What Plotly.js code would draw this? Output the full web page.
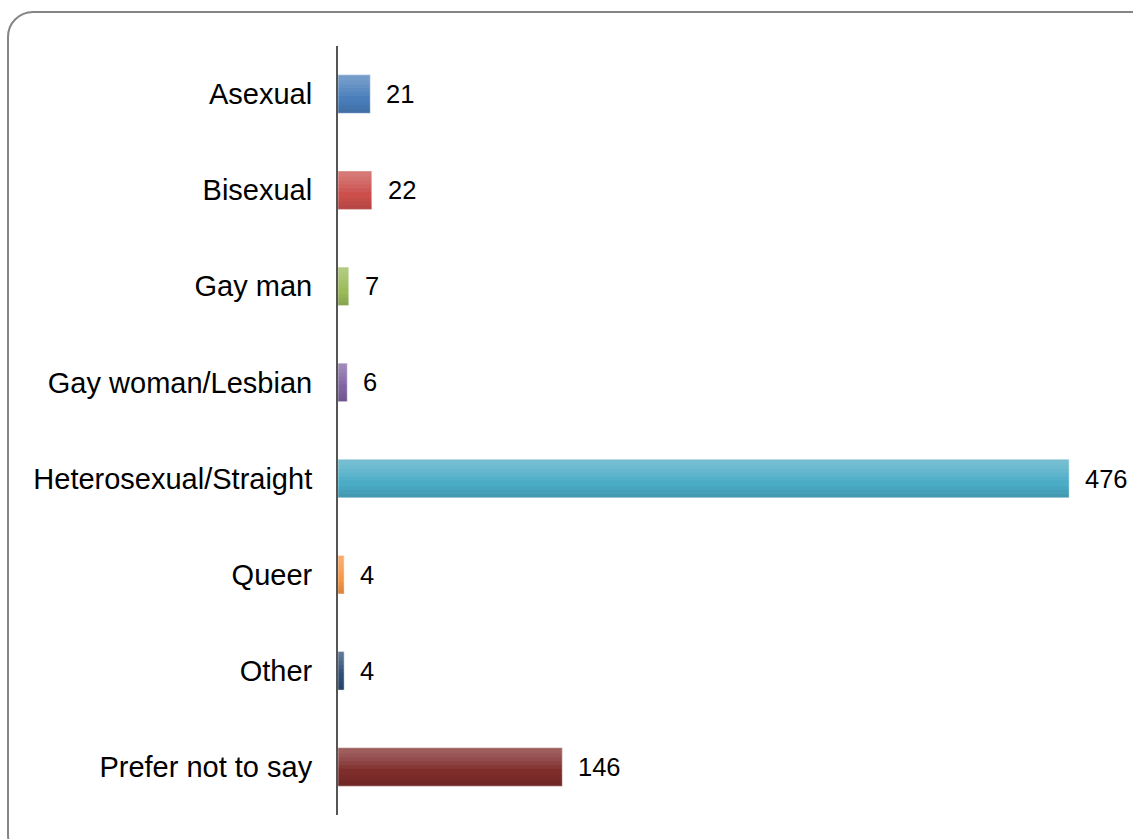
<!DOCTYPE html>
<html>
<head>
<meta charset="utf-8">
<script src="https://cdn.plot.ly/plotly-3.0.1.min.js"></script>
<style>
  html, body { margin: 0; padding: 0; background: #ffffff; }
  #wrap { position: relative; width: 1133px; height: 839px; overflow: hidden; }
  #frame { position: absolute; left: 7px; top: 11px; width: 1150px; height: 850px;
           border: 2px solid #858585; border-radius: 26px; box-sizing: border-box; }
  #chart { position: absolute; left: 0; top: 0; width: 1133px; height: 839px; }
</style>
</head>
<body>
<div id="wrap">
  <div id="frame"></div>
  <div id="chart"></div>
</div>
<script>
const categories = ["Asexual", "Bisexual", "Gay man", "Gay woman/Lesbian",
  "Heterosexual/Straight", "Queer", "Other", "Prefer not to say"];
const counts = [21, 22, 7, 6, 476, 4, 4, 146];
const barColors = ["#4a7ebb", "#cc4f4c", "#9bbb59", "#8064a2",
  "#4bacc6", "#f79646", "#2c4d75", "#7f2d2b"];

const FONT = "Liberation Sans, Arial, sans-serif";

// base bars
const base = {
  type: "bar", orientation: "h",
  x: counts, y: categories,
  width: 0.4, offset: -0.2,
  marker: { color: barColors, line: { color: "rgba(255,255,255,0.45)", width: 1 } },
  hoverinfo: "x+y"
};

// soft stacked shading layers to mimic the vertical gradient of the original bars
function layer(off, w, col) {
  return {
    type: "bar", orientation: "h",
    x: counts, y: categories,
    width: w, offset: off,
    marker: { color: col, line: { width: 0 } },
    hoverinfo: "skip"
  };
}
const traces = [base];
[0.22, 0.18, 0.14, 0.10, 0.06].forEach(w => traces.push(layer(-0.2, w, "rgba(255,255,255,0.055)")));
[0.12, 0.08, 0.04].forEach(w => traces.push(layer(0.2 - w, w, "rgba(0,0,0,0.035)")));

const annotations = categories.map((c, i) => ({
  x: counts[i], y: c, xref: "x", yref: "y",
  text: String(counts[i]), showarrow: false,
  xanchor: "left", yanchor: "middle", xshift: 14,
  font: { family: FONT, size: 25.5, color: "#000000" }
}));

const layout = {
  width: 1133, height: 839,
  margin: { l: 338, r: 27, t: 46, b: 24 },
  paper_bgcolor: "rgba(0,0,0,0)",
  plot_bgcolor: "rgba(0,0,0,0)",
  showlegend: false,
  barmode: "overlay",
  font: { family: FONT, color: "#000000" },
  xaxis: { range: [0, 500], showgrid: false, zeroline: false, showline: false,
           showticklabels: false, ticks: "", fixedrange: true },
  yaxis: { autorange: "reversed", showgrid: false, zeroline: false,
           showline: true, linecolor: "#555555", linewidth: 2,
           ticks: "", ticklabelstandoff: 18,
           tickfont: { family: FONT, size: 29, color: "#000000" } },
  annotations: annotations
};

Plotly.newPlot("chart", traces, layout, { displayModeBar: false, staticPlot: true });
</script>
</body>
</html>
